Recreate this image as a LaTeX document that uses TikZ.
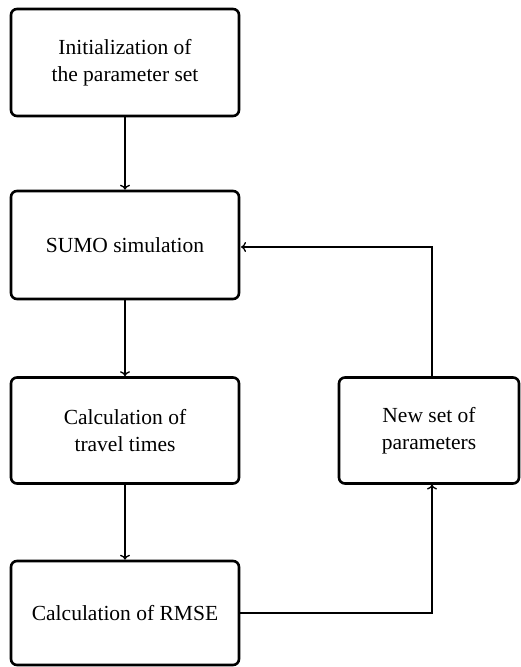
\documentclass[tikz,border=0pt]{standalone}
\usepackage{fontspec}
\setmainfont{Liberation Serif}
\usetikzlibrary{arrows.meta}
\begin{document}
\begin{tikzpicture}[x=1pt,y=-1pt,
  box/.style={draw, line width=2.6pt, rounded corners=6pt, align=center,
    font=\fontsize{21.5}{26.5}\selectfont, inner sep=0pt},
  conn/.style={line width=1.3pt, -{To[length=5pt,width=10pt]}}]
\useasboundingbox (0,0) rectangle (521,667);
\node[box, minimum width=228pt, minimum height=107pt] (init) at (125,62.5) {Initialization of\\the parameter set};
\node[box, minimum width=228pt, minimum height=108pt] (sumo) at (125,245) {SUMO simulation};
\node[box, minimum width=228pt, minimum height=106pt] (tt) at (125,430.5) {Calculation of\\travel times};
\node[box, minimum width=228pt, minimum height=104pt] (rmse) at (125,613) {Calculation of RMSE};
\node[box, minimum width=180pt, minimum height=106pt] (new) at (429,430.5) {New set of\\parameters};
\draw[conn] (init) -- (sumo);
\draw[conn] (sumo) -- (tt);
\draw[conn] (tt) -- (rmse);
\draw[conn] (rmse.east) -| (432,484.5);
\draw[conn] (432,376.5) |- (241,247);
\end{tikzpicture}
\end{document}
